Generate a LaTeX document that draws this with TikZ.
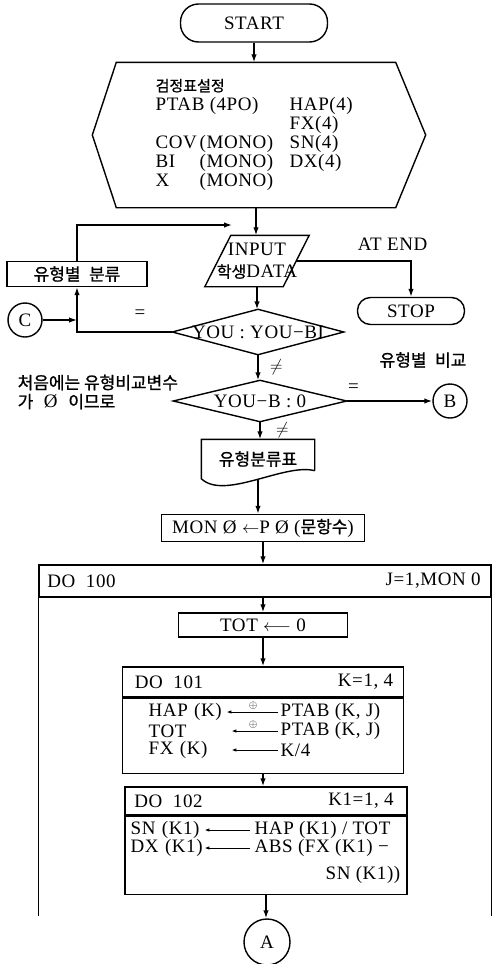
\documentclass[tikz,border=0pt]{standalone}
\usepackage{fontspec}
\setmainfont{Liberation Serif}[LetterSpace=3]
\newfontfamily\kr{Noto Sans CJK KR}[FakeBold=1]
\usetikzlibrary{arrows.meta,positioning}
\newcommand{\krtxt}[2][17]{{\kr\fontsize{#1}{19}\selectfont #2}}

\begin{document}
\begin{tikzpicture}[x=1pt, y=-1pt, line width=1.4pt,
        font=\fontsize{19}{19}\selectfont,
        term/.style={draw, inner sep=0pt},
        blk/.style={draw, inner sep=0pt},
        ghost/.style={inner sep=0pt},
        conn/.style={draw, circle, inner sep=0pt, minimum size=34pt},
        flow/.style={-{Latex[length=8pt,width=5.5pt]}},
        asg/.style={-{Latex[length=5pt,width=3.5pt]}, line width=1pt}]
        \useasboundingbox (0,0) rectangle (495,964);

        \node[term, rounded corners=18pt, minimum width=147pt, minimum height=38pt] (start) at (254,23) {START};

        \node[ghost, minimum width=278pt, minimum height=144pt] (prep) at (256,135) {};
        \draw (prep.north west) -- (prep.north east) -- ([xshift=30pt]prep.east) -- (prep.south east)
            -- (prep.south west) -- ([xshift=-24pt]prep.west) -- cycle;
        \node[anchor=west, inner sep=0pt] (decl) at (155,135) {%
            \begin{tabular}{@{}p{44pt}@{}p{90pt}@{}l@{}}
            \multicolumn{3}{@{}l@{}}{\krtxt[15]{검정표설정}}\\
            \multicolumn{2}{@{}l@{}}{PTAB (4PO)} & HAP(4)\\
            & & FX(4)\\
            COV & (MONO) & SN(4)\\
            BI & (MONO) & DX(4)\\
            X & (MONO) &
            \end{tabular}};

        \coordinate (merge) at (257,225);
        \node[ghost, minimum width=103pt, minimum height=50pt, align=center] (input) at (257,261) {INPUT\\[3pt]\krtxt[16]{학생}DATA};
        \draw ([xshift=26pt]input.north west) -- (input.north east) -- ([xshift=-26pt]input.south east)
            -- (input.south west) -- cycle;
        \node[term, rounded corners=13pt, minimum width=107pt, minimum height=27pt] (stop) at (411,311) {STOP};
        \node[blk, minimum width=140pt, minimum height=25pt] (classify) at (77,274) {\krtxt{유형별\enspace 분류}};
        \node[conn] (c) at (25,320) {C};

        \node[ghost, minimum width=170pt, minimum height=44pt] (youbi) at (258,332) {YOU : YOU−BI};
        \draw (youbi.north) -- (youbi.east) -- (youbi.south) -- (youbi.west) -- cycle;
        \node[ghost, minimum width=172pt, minimum height=40pt] (youb) at (260,401) {YOU−B : 0};
        \draw (youb.north) -- (youb.east) -- (youb.south) -- (youb.west) -- cycle;
        \node[conn] (b) at (450,401) {B};
        \node (cmp) at (423,360) {\krtxt{유형별\enspace 비교}};
        \node[anchor=west, align=left, inner sep=0pt] (note) at (17,392) {\krtxt{처음에는 유형비교변수}\\\krtxt{가}~~Ø~~\krtxt{이므로}};

        \node[ghost, minimum width=112pt, minimum height=38pt] (doc) at (258,459) {\krtxt{유형분류표}};
        \draw ([yshift=8pt]doc.south east) -- (doc.north east) -- (doc.north west) -- (doc.south west)
            .. controls ([xshift=23pt,yshift=-22pt]doc.south west) and ([xshift=-30pt,yshift=16pt]doc.south east) .. ([yshift=8pt]doc.south east);

        \node[blk, minimum width=203pt, minimum height=27pt] (mon) at (263,528) {MON Ø $\leftarrow$P Ø (\krtxt{문항수})};

        \node[blk, minimum width=452pt, minimum height=32pt] (do100) at (265,581) {};
        \node[anchor=west] (h100l) at ([xshift=5pt]do100.west) {DO~~100};
        \node[anchor=east] (h100r) at ([xshift=-7pt]do100.east) {J=1,MON 0};
        \draw (do100.south west) -- ++(0,318);
        \draw (do100.south east) -- ++(0,318);

        \node[blk, minimum width=169pt, minimum height=24pt] (tot) at (263,625) {TOT $\longleftarrow$ 0};

        \node[blk, minimum width=281pt, minimum height=30pt] (do101) at (263,682) {};
        \node[blk, minimum width=281pt, minimum height=75pt, below=0pt of do101] (do101b) {};
        \node[anchor=west] (h101l) at ([xshift=9pt]do101.west) {DO~~101};
        \node[anchor=east] (h101r) at ([xshift=-7pt]do101.east) {K=1, 4};
        \node[anchor=west, inner sep=0pt, text width=77pt] (l1) at (148,712) {\mbox{HAP (K)}};
        \node[anchor=west, inner sep=0pt, text width=77pt] (l2) at (148,731) {\mbox{TOT}};
        \node[anchor=west, inner sep=0pt, text width=77pt] (l3) at (148,750) {\mbox{FX (K)}};
        \node[anchor=west, inner sep=0pt] (r1) at (280,712) {PTAB (K, J)};
        \node[anchor=west, inner sep=0pt] (r2) at (280,731) {PTAB (K, J)};
        \node[anchor=west, inner sep=0pt] (r3) at (280,750) {K/4};
        \draw[asg, shorten <=2pt] (r1.west) -- node[above=-1pt, font=\fontsize{11}{11}\selectfont] (p1) {$\oplus$} (l1.east);
        \draw[asg, shorten <=2pt, shorten >=5pt] (r2.west) -- node[above=-1pt, font=\fontsize{11}{11}\selectfont] (p2) {$\oplus$} (l2.east);
        \draw[asg, shorten <=2pt, shorten >=5pt] (r3.west) -- (l3.east);

        \node[blk, minimum width=282pt, minimum height=28pt] (do102) at (266,801) {};
        \node[blk, minimum width=282pt, minimum height=78pt, below=0pt of do102] (do102b) {};
        \node[anchor=west] (h102l) at ([xshift=6pt]do102.west) {DO~~102};
        \node[anchor=east] (h102r) at ([xshift=-10pt]do102.east) {K1=1, 4};
        \node[anchor=west, inner sep=0pt, text width=73pt] (l4) at (130,830) {\mbox{SN (K1)}};
        \node[anchor=west, inner sep=0pt, text width=73pt] (l5) at (130,848) {\mbox{DX (K1)}};
        \node[anchor=west, inner sep=0pt] (r4) at (254,830) {HAP (K1) / TOT};
        \node[anchor=west, inner sep=0pt] (r5) at (254,848) {ABS (FX (K1) −};
        \node[anchor=east, inner sep=0pt] (r6) at (401,875) {SN (K1))};
        \draw[asg, shorten <=4pt] (r4.west) -- (l4.east);
        \draw[asg, shorten <=4pt] (r5.west) -- (l5.east);

        \node[conn, minimum size=46pt] (a) at (267,942) {A};

        \draw[flow] (start.south) -- (start.south |- prep.north);
        \draw[flow] (prep.south) -- (prep.south |- input.north);
        \draw[flow, shorten >=25pt] (classify.north) |- (merge);
        \draw[flow] ([xshift=-13pt]input.east) -| node[pos=0.42, above=6pt] (atend) {AT END} (stop.north);
        \draw[flow] (input.south) -- (input.south |- youbi.north);
        \draw[flow] (youbi.west) -| node[pos=0.17, above=9pt] (eq1) {=} (classify.south);
        \draw[flow] (c.east) -- (c.east -| classify.south);
        \draw[flow] (youbi.south) -- (youbi.south |- youb.north) node[midway, right=8pt] (ne1) {$\neq$};
        \draw[flow] (youb.east) -- node[pos=0.08, above=4pt] (eq2) {=} (b.west);
        \draw[flow] (youb.south) -- (youb.south |- doc.north) node[midway, right=12pt] (ne2) {$\neq$};
        \draw[flow] (doc.south) -- (doc.south |- mon.north);
        \draw[flow] (mon.south) -- (mon.south |- do100.north);
        \draw[flow] (tot.north |- do100.south) -- (tot.north);
        \draw[flow] (tot.south) -- (do101.north);
        \draw[flow] (do101b.south) -- (do101b.south |- do102.north);
        \draw[flow] (do102b.south) -- (do102b.south |- a.north);
\end{tikzpicture}
\end{document}
